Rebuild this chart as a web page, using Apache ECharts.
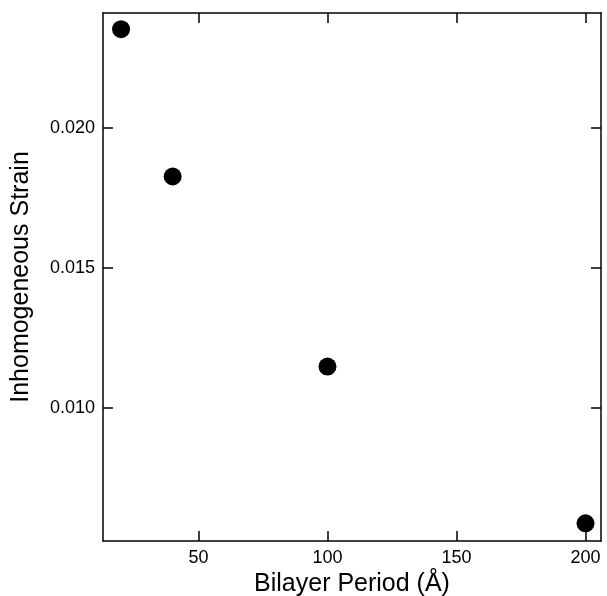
<!DOCTYPE html>
<html>
<head>
<meta charset="utf-8">
<script src="https://cdn.jsdelivr.net/npm/echarts@6/dist/echarts.min.js"></script>
<style>html,body{margin:0;padding:0;background:#fff;overflow:hidden}#c{width:607px;height:596px}</style>
</head>
<body>
<div id="c"></div>
<script>
const periods = [20, 40, 100, 200];
const strains = [0.02353, 0.01827, 0.01148, 0.00588];
const xTicks = [50, 100, 150, 200];
const yTicks = [0.010, 0.015, 0.020];

const chart = echarts.init(document.getElementById('c'), null, {renderer: 'canvas', width: 607, height: 596});
const font = '"Liberation Sans", Arial, Helvetica, sans-serif';
const axisLine = {show: true, lineStyle: {color: '#000', width: 1.5}};
const tickStyle = {color: '#000', width: 1.5};

chart.setOption({
  animation: false,
  backgroundColor: '#fff',
  grid: {left: 103, width: 498, top: 13, height: 528, containLabel: false, outerBoundsMode: 'none'},
  xAxis: [{
    type: 'value', min: 13, max: 206, position: 'bottom',
    name: 'Bilayer Period (Å)', nameLocation: 'middle', nameGap: 29,
    nameTextStyle: {fontFamily: font, fontSize: 25, color: '#000'},
    axisLine: axisLine,
    axisTick: {show: true, inside: true, length: 10, lineStyle: tickStyle, customValues: xTicks},
    axisLabel: {show: true, fontFamily: font, fontSize: 18, color: '#000', margin: 8, customValues: xTicks},
    splitLine: {show: false}
  }, {
    type: 'value', min: 13, max: 206, position: 'top',
    axisLine: axisLine,
    axisTick: {show: true, inside: true, length: 10, lineStyle: tickStyle, customValues: xTicks},
    axisLabel: {show: false},
    splitLine: {show: false}
  }],
  yAxis: [{
    type: 'value', min: 0.00525, max: 0.02411, position: 'left',
    name: 'Inhomogeneous Strain', nameLocation: 'middle', nameGap: 69, nameRotate: 90,
    nameTextStyle: {fontFamily: font, fontSize: 25, color: '#000'},
    axisLine: axisLine,
    axisTick: {show: true, inside: true, length: 10, lineStyle: tickStyle, customValues: yTicks},
    axisLabel: {show: true, fontFamily: font, fontSize: 18, color: '#000', margin: 8,
      customValues: yTicks, formatter: v => v.toFixed(3)},
    splitLine: {show: false}
  }, {
    type: 'value', min: 0.00525, max: 0.02411, position: 'right',
    axisLine: axisLine,
    axisTick: {show: true, inside: true, length: 10, lineStyle: tickStyle, customValues: yTicks},
    axisLabel: {show: false},
    splitLine: {show: false}
  }],
  series: [{
    type: 'scatter',
    xAxisIndex: 0, yAxisIndex: 0,
    symbol: 'circle', symbolSize: 18,
    itemStyle: {color: '#000', opacity: 1},
    data: periods.map((p, i) => [p, strains[i]])
  }]
});
</script>
</body>
</html>
